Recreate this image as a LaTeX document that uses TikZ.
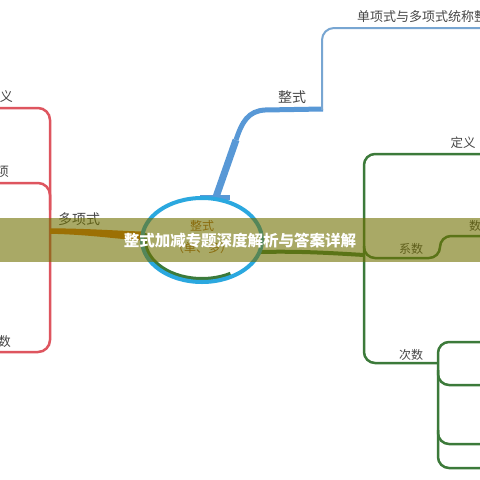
\documentclass[tikz,border=0pt]{standalone}
\usepackage{fontspec}
\newfontfamily\cjk{Noto Sans CJK SC}
\definecolor{redl}{RGB}{222,85,95}
\definecolor{greenl}{RGB}{60,122,58}
\definecolor{bluel}{RGB}{43,168,223}
\definecolor{bluebr}{RGB}{88,152,214}
\definecolor{bluethin}{RGB}{120,166,210}
\definecolor{orangel}{RGB}{222,112,10}
\definecolor{brownt}{RGB}{176,100,30}
\definecolor{bandc}{RGB}{112,112,0}
\definecolor{labc}{RGB}{70,70,70}
\tikzset{
  lab/.style={font=\cjk\fontsize{13}{13}\selectfont, text=labc, inner sep=0pt},
  redbr/.style={draw=redl, line width=2.5pt, rounded corners=12pt},
  greenbr/.style={draw=greenl, line width=2.5pt, rounded corners=11pt},
}
\begin{document}
\begin{tikzpicture}[x=1pt,y=-1pt]
\useasboundingbox (0,0) rectangle (480,480);
\clip (0,0) rectangle (480,480);
\fill[white] (0,0) rectangle (480,480);

% coordinates
\coordinate (c) at (202,240);
\coordinate (redspineT) at (50,228.3);
\coordinate (redspineB) at (50,233.8);
\coordinate (ellLT) at (143,231.5);
\coordinate (ellLB) at (143,240.5);
\coordinate (ellR) at (259,252);
\coordinate (grspine) at (364,255);

% red (left) structure
\draw[redbr] (0,108) -- (50,108) -- (50,352) -- (0,352);
\draw[redbr] (0,183) -- (50,183) -- (50,210);
\node[lab, anchor=east] (rl1) at (13,97) {定义};
\node[lab, anchor=east] (rl2) at (9,172) {项};
\node[lab, anchor=east] (rl3) at (11,342) {次数};

% orange branch (tapered)
\fill[orangel] (redspineT) .. controls (90,228.5) and (120,231) .. (ellLT)
  -- (ellLB) .. controls (120,239.5) and (90,234.5) .. (redspineB) -- cycle;
\node[lab, font=\cjk\fontsize{14}{14}\selectfont] (duo) at (79,219) {多项式};

% blue branch
\draw[bluebr, line width=5pt] (200,197) -- (230,197);
\draw[bluebr, line width=7pt] (216,197) -- (236,140);
\draw[bluebr, line width=5pt] (236,140) .. controls (242,122) and (248,111) .. (265,110) -- (323,109);
\draw[bluethin, line width=2pt, rounded corners=12pt] (322,110) -- (322,28) -- (480,28);
\node[lab, font=\cjk\fontsize{14}{14}\selectfont] (zs) at (292,97) {整式};
\node[lab, anchor=west] (tc) at (357,17) {单项式与多项式统称整式};

% green structure
\draw[greenl, line width=4pt] (c) ++(190:57 and 39) arc[start angle=190, end angle=60, x radius=57, y radius=39];
\draw[greenl, line width=4pt] (ellR) .. controls (300,251) and (330,253) .. (grspine);
\draw[greenbr] (480,154) -- (364,154) -- (364,363) -- (438,363);
\draw[greenbr] (364,246) -- (364,258) -- (440,258) -- (440,236) -- (480,236);
\draw[greenbr] (480,342) -- (438,342) -- (438,468) -- (480,468);
\draw[greenbr] (438,370) -- (438,385) -- (480,385);
\draw[greenbr] (438,430) -- (438,444) -- (480,444);
\node[lab, font=\cjk\fontsize{12.5}{12.5}\selectfont] (dy) at (463,143) {定义};
\node[lab, font=\cjk\fontsize{12}{12}\selectfont] (xs) at (411,249) {系数};
\node[lab, font=\cjk\fontsize{12}{12}\selectfont, anchor=west] (sz) at (469,226) {数};
\node[lab, font=\cjk\fontsize{12}{12}\selectfont] (cs) at (411,355) {次数};

% center ellipse
\draw[bluel, line width=4pt] (c) ellipse[x radius=60, y radius=42];
\node[lab, text=brownt, font=\cjk\fontsize{12}{12}\selectfont] (ct1) at (202,226) {整式};
\node[lab, text=brownt, font=\cjk\fontsize{12}{12}\selectfont] (ct2) at (202,248) {（单、多）};

% title band
\fill[bandc, opacity=0.6] (0,218) rectangle (480,262);
\node[font=\cjk\bfseries\fontsize{15.5}{15.5}\selectfont, text=white, inner sep=0pt] (title) at (240,241) {整式加减专题深度解析与答案详解};
\end{tikzpicture}
\end{document}
